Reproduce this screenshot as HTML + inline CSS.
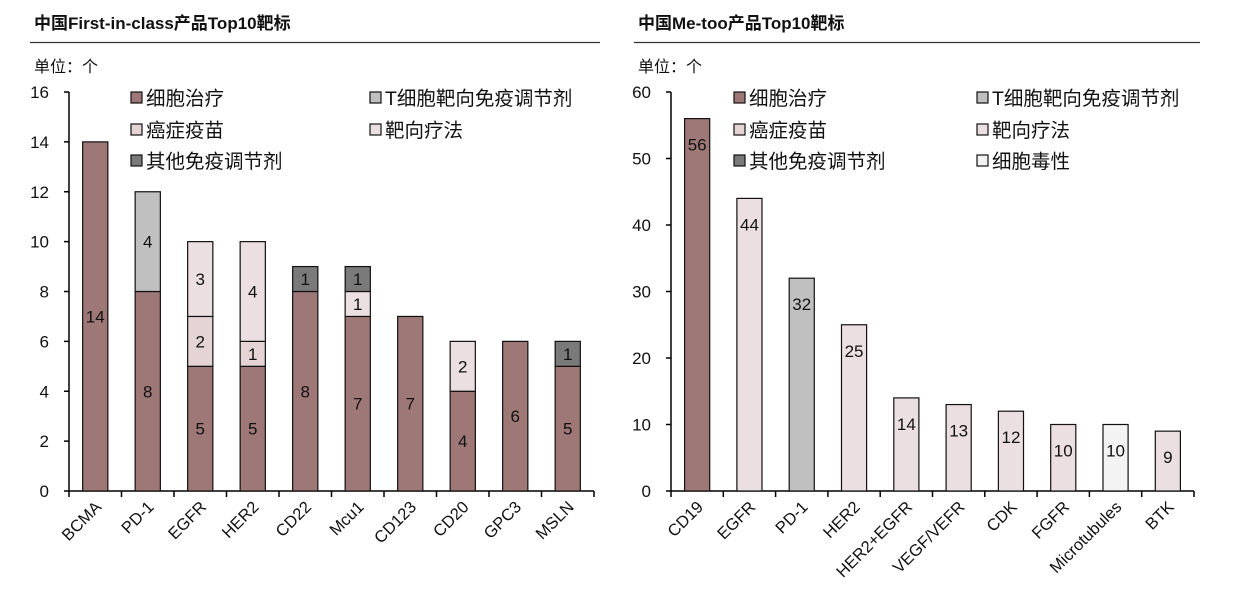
<!DOCTYPE html>
<html><head><meta charset="utf-8"><style>
body{margin:0;background:#fff;width:1253px;height:608px;overflow:hidden;font-family:"Liberation Sans","Noto Sans CJK SC",sans-serif}
svg text{font-family:"Liberation Sans","Noto Sans CJK SC",sans-serif;fill:#111}
</style></head><body>
<svg id="c" width="1253" height="608"></svg>
<script>
const leftCats=["BCMA","PD-1","EGFR","HER2","CD22","Mcu1","CD123","CD20","GPC3","MSLN"];
const leftCell=[14,8,5,5,8,7,7,4,6,5];
const leftTcell=[0,4,0,0,0,0,0,0,0,0];
const leftVaccine=[0,0,2,1,0,0,0,0,0,0];
const leftTargeted=[0,0,3,4,0,1,0,2,0,0];
const leftOther=[0,0,0,0,1,1,0,0,0,1];
const leftTicks=[0,2,4,6,8,10,12,14,16];
const rightCats=["CD19","EGFR","PD-1","HER2","HER2+EGFR","VEGF/VEFR","CDK","FGFR","Microtubules","BTK"];
const rightValues=[56,44,32,25,14,13,12,10,10,9];
const rightTypes=["cell","targeted","tcell","targeted","targeted","targeted","targeted","targeted","cyto","targeted"];
const rightTicks=[0,10,20,30,40,50,60];

const colors={cell:"#9e7777",tcell:"#c0c0c0",vaccine:"#e4d4d4",targeted:"#ecdfe2",other:"#7a7a7a",cyto:"#f3f3f3"};
const NS="http://www.w3.org/2000/svg";
const svg=document.getElementById("c");
function mk(tag,attrs,parent,txt){const e=document.createElementNS(NS,tag);for(const k in attrs)e.setAttribute(k,attrs[k]);if(txt!==undefined)e.textContent=txt;(parent||svg).appendChild(e);return e;}

function panel(cfg){
  const g=mk("g",{});
  
  
  const t=mk("text",{x:cfg.titleX,y:29,"font-size":17,"font-weight":"bold"},g,cfg.title);
  
  
  mk("line",{x1:cfg.titleX-4,x2:cfg.lineEnd,y1:42.5,y2:42.5,stroke:"#333","stroke-width":1.2},g);
  const u=mk("text",{x:cfg.titleX,y:72,"font-size":16},g,"单位：个");
  
  
  const y0=491,yTop=92,x0=cfg.x0,x1=cfg.x1;
  const ys=v=>y0-(v/cfg.max)*(y0-yTop);
  const n=cfg.cats.length,step=(x1-x0)/n;
  const xc=i=>x0+step*(i+0.5);
  const bw=step*0.48;
  mk("line",{x1:x0,x2:x0,y1:yTop,y2:y0,stroke:"#000","stroke-width":1.5},g);
  mk("line",{x1:x0,x2:x1,y1:y0,y2:y0,stroke:"#000","stroke-width":1.5},g);
  cfg.ticks.forEach(v=>{
    mk("line",{x1:x0-5,x2:x0,y1:ys(v),y2:ys(v),stroke:"#000","stroke-width":1.5},g);
    const tl=mk("text",{x:x0-20,y:ys(v)+6,"font-size":17,"text-anchor":"end"},g,v);
    
    
  });
  for(let i=0;i<=n;i++){const x=x0+step*i;mk("line",{x1:x,x2:x,y1:y0,y2:y0+6,stroke:"#000","stroke-width":1.5},g);}
  cfg.cats.forEach((c,i)=>{
    const x=xc(i)+7,y=y0+17;
    const tl=mk("text",{x:x,y:y,"font-size":16.5,"text-anchor":"end",transform:`rotate(-45 ${x} ${y})`},g,c);
    
    
    let base=0;
    cfg.stacks(i).forEach(s=>{
      if(!s.v)return;
      const top=base+s.v;
      const r=mk("rect",{x:xc(i)-bw/2,y:ys(top),width:bw,height:ys(base)-ys(top),fill:colors[s.k],stroke:"#111","stroke-width":1.2},g);
      
      
      const ly=cfg.topLabel?ys(top)+32:(ys(base)+ys(top))/2+6;
      const l=mk("text",{x:xc(i),y:ly,"font-size":17,"text-anchor":"middle"},g,s.v);
      
      
      base=top;
    });
  });
  cfg.legend.forEach(L=>{
    const r=mk("rect",{x:L.x,y:L.y-13,width:11,height:11,fill:colors[L.k],stroke:"#111","stroke-width":1.2},g);
    
    
    const t=mk("text",{x:L.x+15,y:L.y,"font-size":19.5},g,L.t);
    
    
  });
}
panel({name:"first-in-class-chart",title:"中国First-in-class产品Top10靶标",titleX:34,lineEnd:600,x0:69,x1:594,max:16,ticks:leftTicks,cats:leftCats,
  stacks:i=>[{k:"cell",v:leftCell[i]},{k:"tcell",v:leftTcell[i]},{k:"vaccine",v:leftVaccine[i]},{k:"targeted",v:leftTargeted[i]},{k:"other",v:leftOther[i]}],
  legend:[{x:131,y:105,k:"cell",t:"细胞治疗"},{x:370,y:105,k:"tcell",t:"T细胞靶向免疫调节剂"},{x:131,y:137,k:"vaccine",t:"癌症疫苗"},{x:370,y:137,k:"targeted",t:"靶向疗法"},{x:131,y:168,k:"other",t:"其他免疫调节剂"}]});
panel({name:"me-too-chart",title:"中国Me-too产品Top10靶标",titleX:638,lineEnd:1200,x0:671,x1:1194,max:60,ticks:rightTicks,cats:rightCats,topLabel:true,
  stacks:i=>[{k:rightTypes[i],v:rightValues[i]}],
  legend:[{x:734,y:105,k:"cell",t:"细胞治疗"},{x:977,y:105,k:"tcell",t:"T细胞靶向免疫调节剂"},{x:734,y:137,k:"vaccine",t:"癌症疫苗"},{x:977,y:137,k:"targeted",t:"靶向疗法"},{x:734,y:168,k:"other",t:"其他免疫调节剂"},{x:977,y:168,k:"cyto",t:"细胞毒性"}]});
</script>
</body></html>
